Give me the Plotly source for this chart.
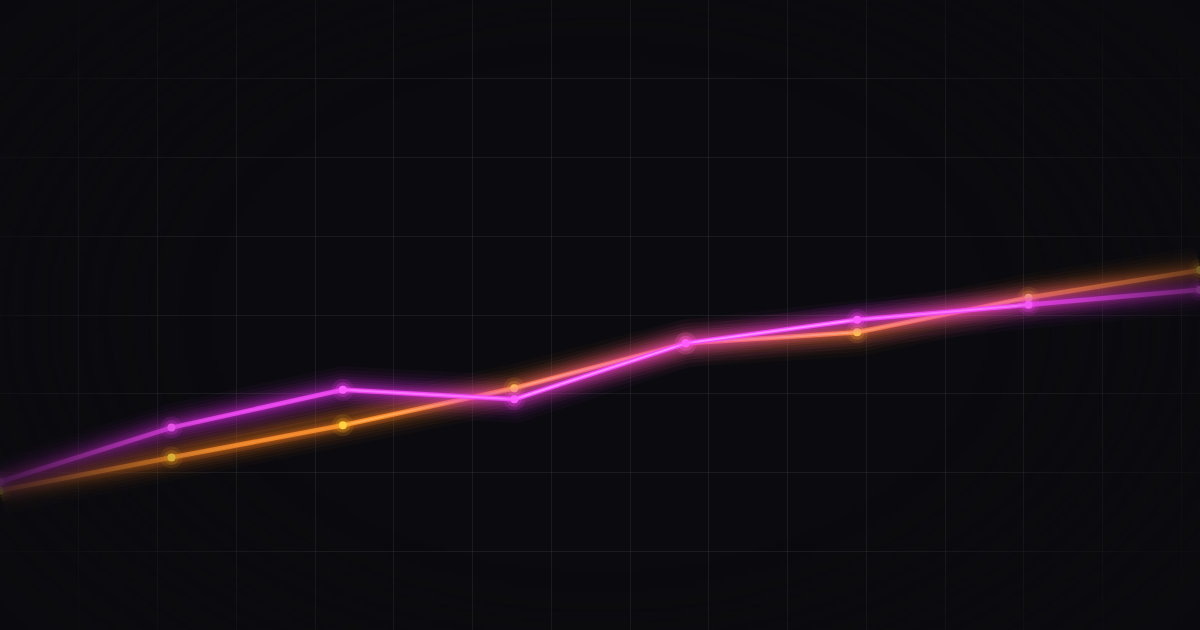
import base64
import struct
import zlib
import numpy as np
import plotly.graph_objects as go

# ---- data ----
categories = ["Jan", "Feb", "Mar", "Apr", "May", "Jun", "Jul", "Aug"]
magenta_values = [18.8, 25.7, 30.5, 29.3, 36.4, 39.4, 41.3, 43.2]
orange_values = [17.7, 21.9, 26.0, 30.7, 36.4, 37.8, 42.2, 45.7]

BG_RGB = (11, 11, 15)
BG = "#0b0b0f"
W, H = 1200, 630
CELL = 78.75  # background grid cell size in px

# per-segment stroke strength (style: fades toward the chart ends)
seg_alpha = [0.55, 0.75, 0.9, 1.0, 1.0, 0.9, 0.7]
# glow layers (width px, alpha)
glow_layers = [(48, 0.03), (40, 0.042), (33, 0.055), (27, 0.07), (22, 0.085),
               (17, 0.1), (13, 0.12), (9, 0.15), (6, 0.18)]

x_idx = list(range(len(categories)))

fig = go.Figure()

# invisible trace so the background-grid axis exists
fig.add_trace(go.Scatter(x=[0], y=[0], xaxis="x2", mode="markers",
                         marker=dict(size=1, color="rgba(0,0,0,0)"),
                         hoverinfo="skip", showlegend=False))


def rgba(rgb, a):
    return f"rgba({rgb[0]},{rgb[1]},{rgb[2]},{a:.3f})"


def glow_series(values, core_rgb, glow_rgb, hi_rgb, marker_col, marker_glow):
    n = len(values)
    for w, ga in glow_layers:
        fig.add_trace(go.Scatter(
            x=x_idx, y=values, mode="lines",
            line=dict(color=rgba(glow_rgb, ga), width=w),
            hoverinfo="skip", showlegend=False))
    for i in range(n - 1):
        xs = x_idx[i:i + 2]
        ys = values[i:i + 2]
        a = seg_alpha[i]
        fig.add_trace(go.Scatter(
            x=xs, y=ys, mode="lines",
            line=dict(color=rgba(core_rgb, 0.4 + 0.6 * a), width=4.5),
            hoverinfo="skip", showlegend=False))
        fig.add_trace(go.Scatter(
            x=xs, y=ys, mode="lines",
            line=dict(color=rgba(hi_rgb, max(0.0, (a - 0.7)) * 2.2), width=2),
            hoverinfo="skip", showlegend=False))
    # marker glow and markers
    for s, ma in [(22, 0.12), (15, 0.22)]:
        fig.add_trace(go.Scatter(
            x=x_idx, y=values, mode="markers",
            marker=dict(size=s, color=marker_glow, opacity=ma, line=dict(width=0)),
            hoverinfo="skip", showlegend=False))
    fig.add_trace(go.Scatter(
        x=x_idx, y=values, mode="markers", text=categories,
        marker=dict(size=8, color=marker_col, line=dict(width=0)),
        showlegend=False))


glow_series(orange_values, (255, 145, 45), (255, 125, 30), (255, 215, 130),
            "#ffd040", "#ffb020")
glow_series(magenta_values, (245, 70, 248), (235, 50, 240), (255, 185, 255),
            "#ff5cff", "#ff40ff")


# ---- soft vignette overlay as a small PNG (fades grid and strokes at the edges) ----
def make_png(rgba_arr):
    h, w, _ = rgba_arr.shape
    raw = b"".join(b"\x00" + rgba_arr[r].tobytes() for r in range(h))

    def chunk(tag, data):
        c = struct.pack(">I", len(data)) + tag + data
        return c + struct.pack(">I", zlib.crc32(tag + data) & 0xffffffff)

    ihdr = struct.pack(">IIBBBBB", w, h, 8, 6, 0, 0, 0)
    return (b"\x89PNG\r\n\x1a\n" + chunk(b"IHDR", ihdr)
            + chunk(b"IDAT", zlib.compress(raw, 9)) + chunk(b"IEND", b""))


vw, vh = 240, 126
gx = (np.arange(vw) + 0.5) / vw
gy = (np.arange(vh) + 0.5) / vh
X, Y = np.meshgrid(gx, gy)
e = np.sqrt(((X - 0.5) / 0.5) ** 2 + (0.8 * (Y - 0.5) / 0.5) ** 2)
t = np.clip((e - 0.62) / 0.66, 0, 1)
alpha = (t * t * (3 - 2 * t)) * 0.95
img = np.zeros((vh, vw, 4), dtype=np.uint8)
img[..., 0], img[..., 1], img[..., 2] = BG_RGB
img[..., 3] = (alpha * 255).astype(np.uint8)
src = "data:image/png;base64," + base64.b64encode(make_png(img)).decode()

fig.update_layout(
    width=W, height=H,
    margin=dict(l=0, r=0, t=0, b=0),
    paper_bgcolor=BG, plot_bgcolor=BG,
    xaxis=dict(range=[0, len(categories) - 1], showgrid=False, zeroline=False,
               showticklabels=False, showline=False, fixedrange=True),
    xaxis2=dict(range=[0, W / CELL], overlaying="x", dtick=1, tick0=0,
                showgrid=True, gridcolor="rgba(255,255,255,0.065)", gridwidth=1,
                zeroline=False, showticklabels=False, showline=False),
    yaxis=dict(range=[0, 80], dtick=10, showgrid=True,
               gridcolor="rgba(255,255,255,0.065)", gridwidth=1,
               zeroline=False, showticklabels=False, showline=False),
    images=[dict(source=src, xref="paper", yref="paper", x=0, y=1,
                 sizex=1, sizey=1, sizing="stretch", xanchor="left",
                 yanchor="top", layer="above", opacity=1)],
    showlegend=False,
)

fig.write_html(
    "out.html",
    config={"displayModeBar": False},
    post_script="document.body.style.margin='0';document.body.style.background='#0b0b0f';"
                "document.documentElement.style.background='#0b0b0f';",
)
